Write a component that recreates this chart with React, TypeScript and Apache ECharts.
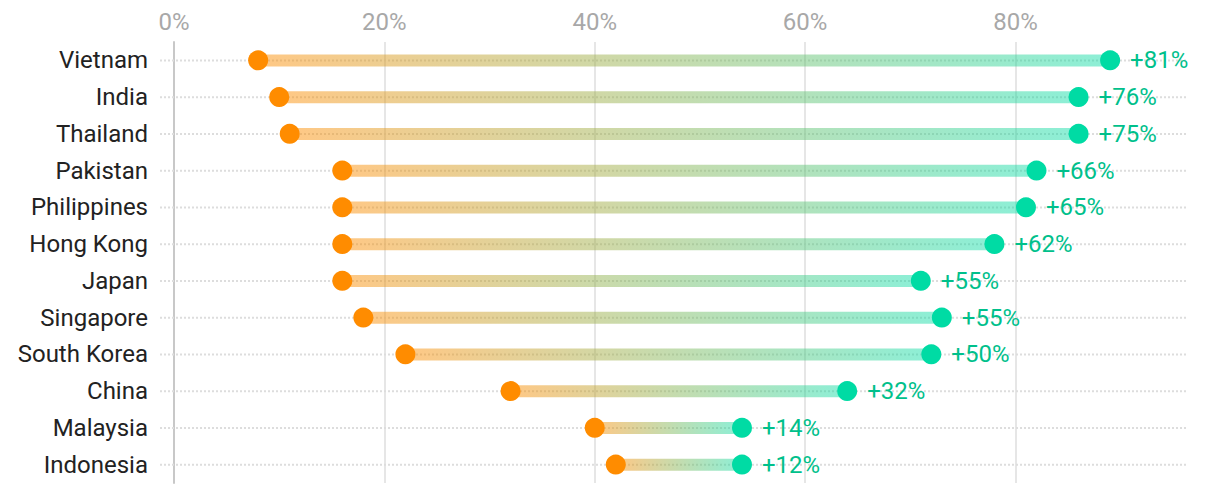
import React, { useEffect, useRef } from "react";
import * as echarts from "echarts";

const countries = [
  "Vietnam", "India", "Thailand", "Pakistan", "Philippines", "Hong Kong",
  "Japan", "Singapore", "South Korea", "China", "Malaysia", "Indonesia",
];
const startValues = [8, 10, 11, 16, 16, 16, 16, 18, 22, 32, 40, 42];
const endValues = [89, 86, 86, 82, 81, 78, 71, 73, 72, 64, 54, 54];
const xTicks = [0, 20, 40, 60, 80];

const ORANGE = "#FF8C00";
const GREEN = "#00DBA4";
const LABEL_GREEN = "#00C08B";

export default function App() {
  const ref = useRef<HTMLDivElement>(null);

  useEffect(() => {
    if (!ref.current) return;
    const chart = echarts.init(ref.current, undefined, { renderer: "svg" });
    const data = countries.map((_, i) => [i, startValues[i], endValues[i]]);

    chart.setOption({
      animation: false,
      grid: { left: 174, right: 31, top: 42, bottom: 7, containLabel: false },
      xAxis: {
        type: "value",
        position: "top",
        min: 0,
        max: 96.5,
        interval: 20,
        axisLine: { show: false },
        axisTick: { show: false },
        axisLabel: {
          showMaxLabel: false,
          formatter: (v: number) => (xTicks.indexOf(v) >= 0 ? v + "%" : ""),
          color: "#a8a8a8",
          fontSize: 24,
          fontFamily: "Roboto",
          margin: 8,
        },
        splitLine: {
          show: true,
          showMaxLine: false,
          lineStyle: { color: "#e6e6e6", width: 2, type: "solid" },
        },
      },
      yAxis: {
        type: "category",
        inverse: true,
        data: countries,
        axisLine: { show: true, lineStyle: { color: "#c8c8c8", width: 2 } },
        axisTick: { show: false },
        axisLabel: {
          color: "#222222",
          fontSize: 24,
          fontFamily: "Roboto",
          margin: 26,
        },
        splitLine: { show: false },
      },
      series: [
        {
          type: "custom",
          encode: { x: [1, 2], y: 0 },
          data,
          renderItem: (params: any, api: any) => {
            const cat = api.value(0);
            const s = api.value(1);
            const e = api.value(2);
            const p1 = api.coord([s, cat]);
            const p2 = api.coord([e, cat]);
            const cs = params.coordSys;
            const y = p1[1];
            const diff = Math.round(e - s);
            return {
              type: "group",
              children: [
                {
                  type: "line",
                  shape: { x1: cs.x - 14, y1: y, x2: cs.x + cs.width - 2, y2: y },
                  style: { stroke: "#dddddd", lineWidth: 2, lineDash: [2, 2] },
                },
                {
                  type: "rect",
                  shape: { x: p1[0], y: y - 6, width: p2[0] - p1[0], height: 12 },
                  style: {
                    fill: new echarts.graphic.LinearGradient(0, 0, 1, 0, [
                      { offset: 0, color: "rgba(255,140,0,0.48)" },
                      { offset: 1, color: "rgba(0,219,164,0.45)" },
                    ]),
                  },
                },
                {
                  type: "circle",
                  shape: { cx: p1[0], cy: y, r: 10 },
                  style: { fill: ORANGE },
                },
                {
                  type: "circle",
                  shape: { cx: p2[0], cy: y, r: 10 },
                  style: { fill: GREEN },
                },
                {
                  type: "text",
                  style: {
                    text: "+" + diff + "%",
                    x: p2[0] + 20,
                    y: y,
                    fill: LABEL_GREEN,
                    fontSize: 24,
                    fontFamily: "Roboto",
                    verticalAlign: "middle",
                    align: "left",
                  },
                },
              ],
            };
          },
        },
      ],
    });

    return () => chart.dispose();
  }, []);

  return (
    <div
      ref={ref}
      style={{ position: "absolute", left: 0, top: 0, width: 1220, height: 490 }}
    />
  );
}
